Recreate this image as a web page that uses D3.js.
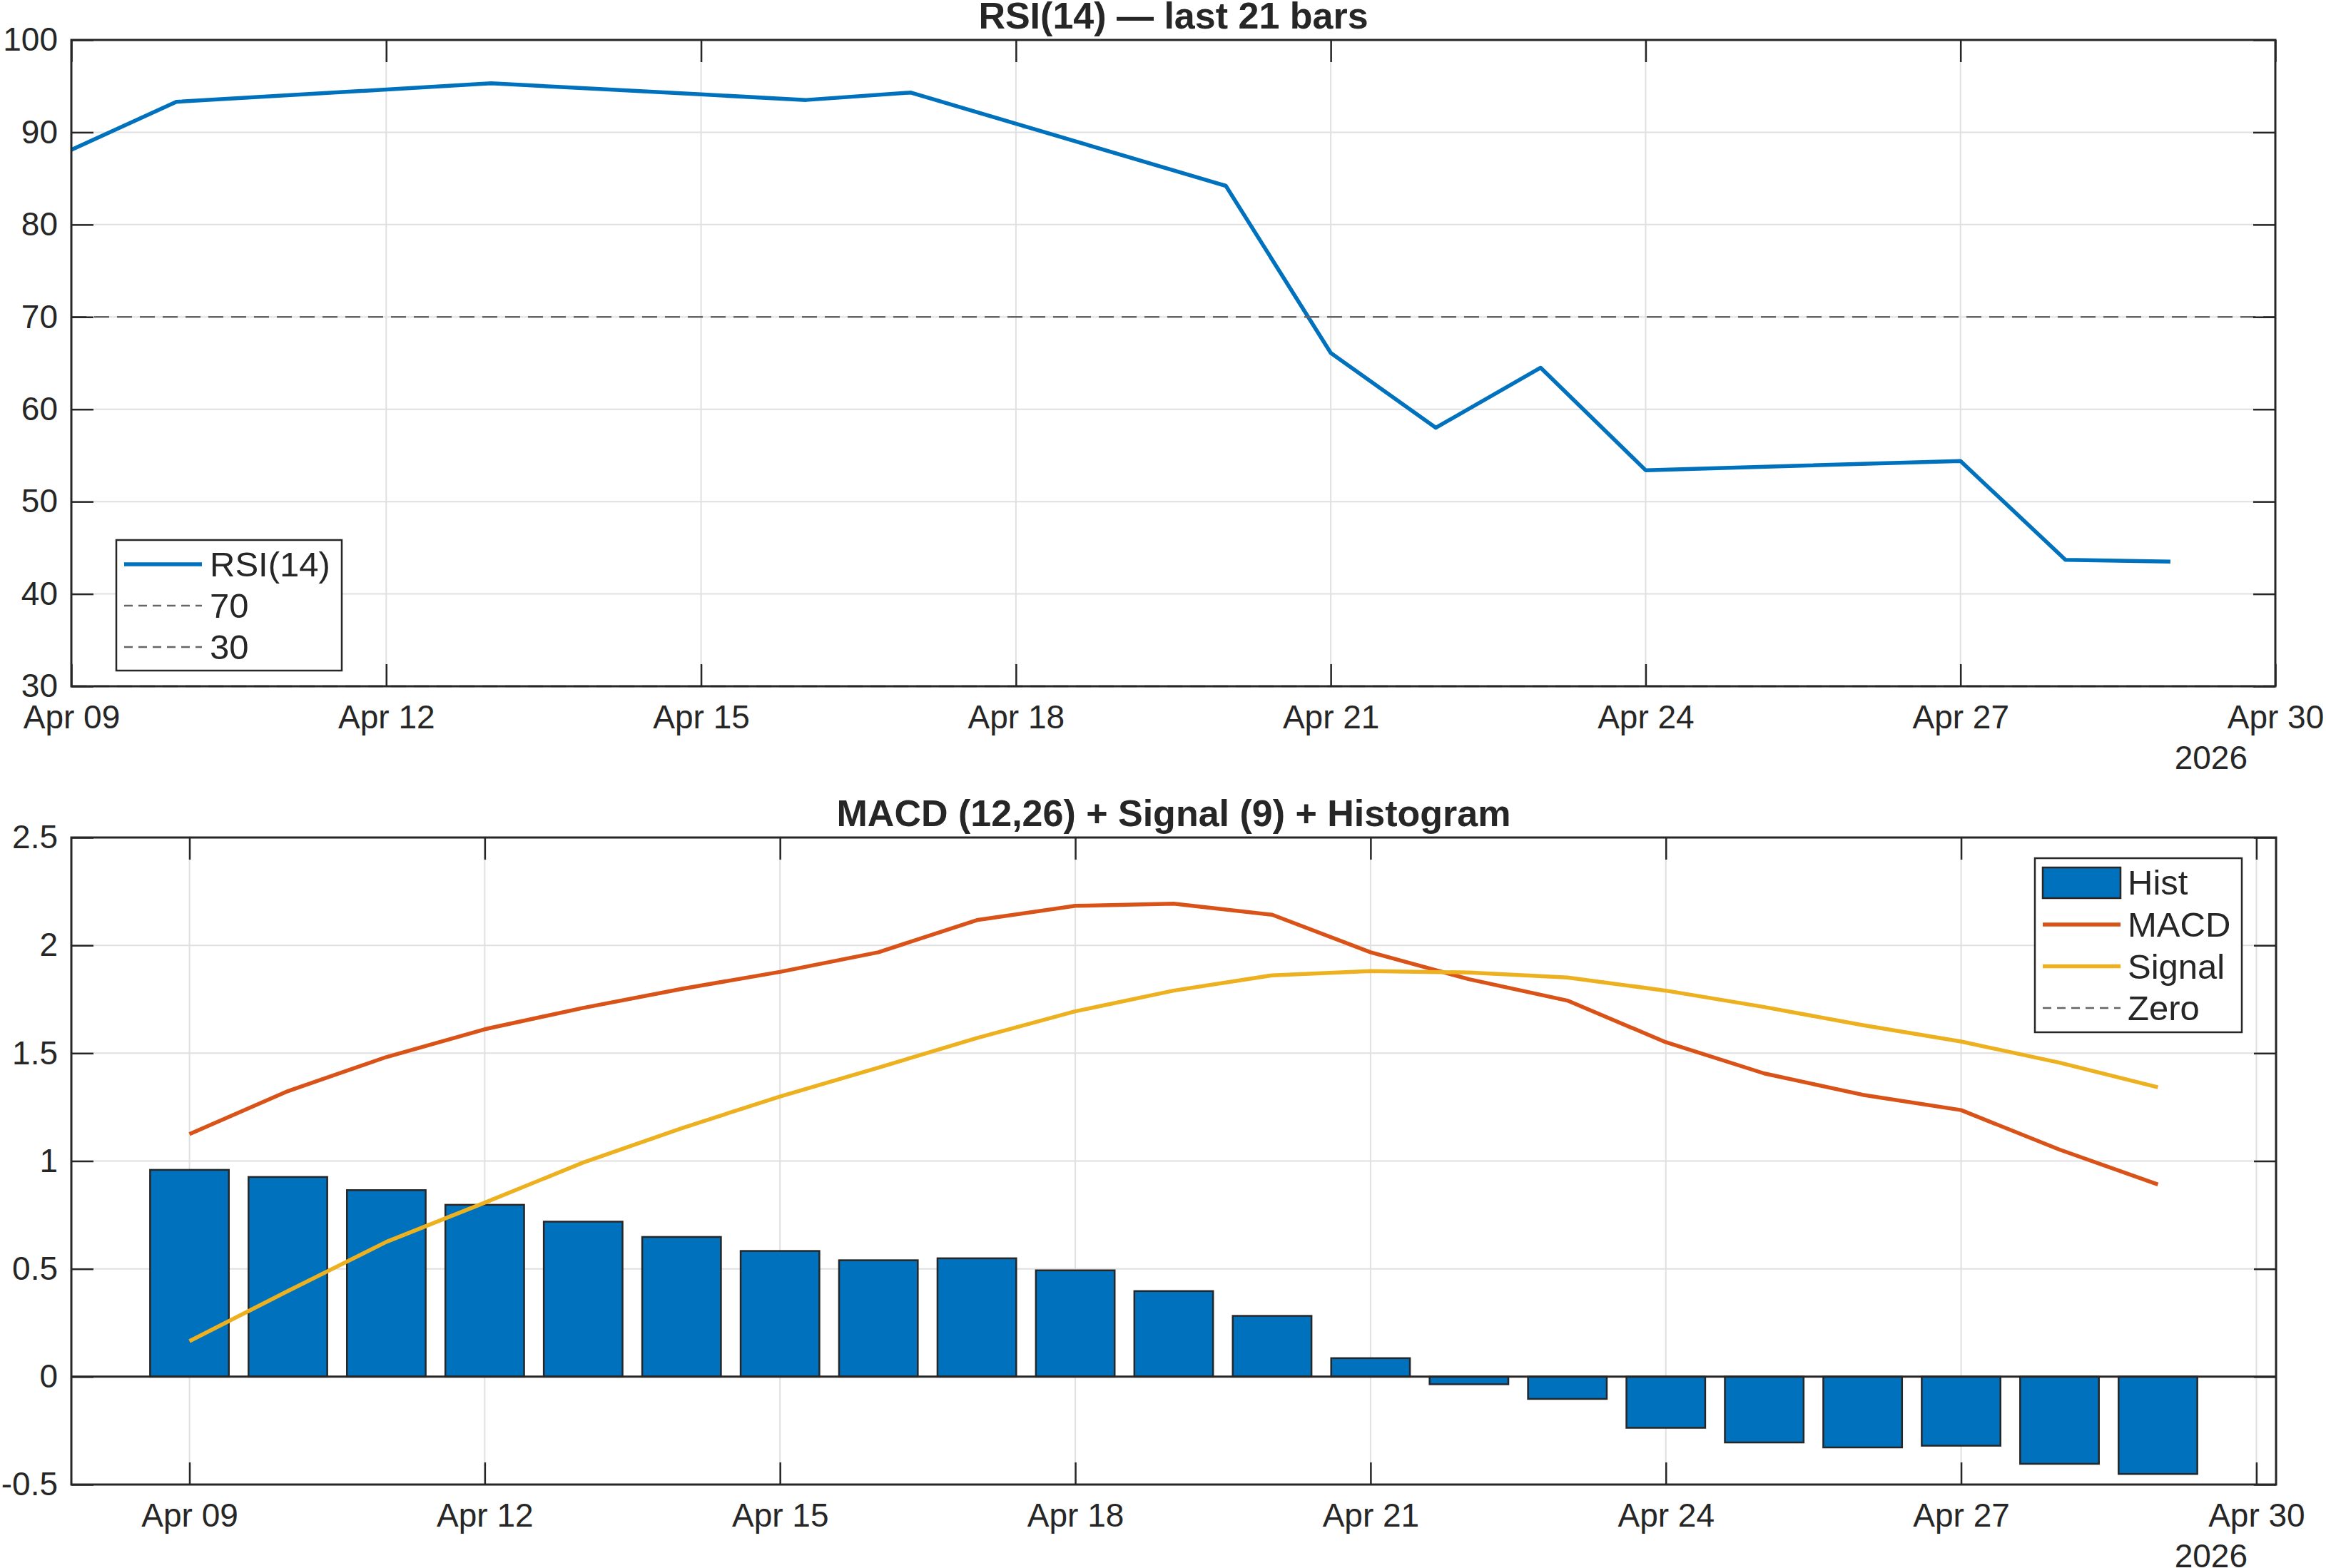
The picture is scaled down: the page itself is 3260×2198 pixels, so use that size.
<!DOCTYPE html>
<html>
<head>
<meta charset="utf-8">
<script src="https://cdn.jsdelivr.net/npm/d3@7"></script>
<style>
  body { margin: 0; background: #ffffff; }
  text { font-family: "Liberation Sans", Arial, Helvetica, sans-serif; fill: #262626; }
</style>
</head>
<body>
<svg id="chart" width="3260" height="2198"></svg>
<script>

// RSI(14), trading days only
var rsiDates = ["2026-04-09", "2026-04-10", "2026-04-13", "2026-04-14", "2026-04-15",
    "2026-04-16", "2026-04-17", "2026-04-20", "2026-04-21", "2026-04-22",
    "2026-04-23", "2026-04-24", "2026-04-27", "2026-04-28", "2026-04-29"];
var rsiValues = [88.1, 93.3, 95.3, 94.7, 94.1, 93.5, 94.3, 84.2, 66.1, 58.0, 64.5, 53.4, 54.4, 43.7, 43.5];
var rsiLevels = [70, 30];

// MACD panel, one value per day
var macdDates = ["2026-04-09", "2026-04-10", "2026-04-11", "2026-04-12", "2026-04-13",
    "2026-04-14", "2026-04-15", "2026-04-16", "2026-04-17", "2026-04-18",
    "2026-04-19", "2026-04-20", "2026-04-21", "2026-04-22", "2026-04-23",
    "2026-04-24", "2026-04-25", "2026-04-26", "2026-04-27", "2026-04-28", "2026-04-29"];
var histValues = [0.959, 0.926, 0.865, 0.797, 0.719, 0.648, 0.583, 0.540, 0.549, 0.493, 0.397,
    0.282, 0.086, -0.035, -0.103, -0.237, -0.305, -0.328, -0.320, -0.404, -0.451];
var macdValues = [1.125, 1.324, 1.482, 1.611, 1.710, 1.798, 1.877, 1.968, 2.117, 2.183, 2.193,
    2.142, 1.968, 1.843, 1.744, 1.551, 1.406, 1.307, 1.236, 1.053, 0.891];
var signalValues = [0.165, 0.397, 0.625, 0.807, 0.993, 1.152, 1.299, 1.433, 1.570, 1.694, 1.790,
    1.861, 1.881, 1.874, 1.851, 1.790, 1.714, 1.630, 1.554, 1.456, 1.342];

// ticks
var xTickDates = ["2026-04-09", "2026-04-12", "2026-04-15", "2026-04-18",
    "2026-04-21", "2026-04-24", "2026-04-27", "2026-04-30"];
var rsiYTicks = [30, 40, 50, 60, 70, 80, 90, 100];
var macdYTicks = [-0.5, 0, 0.5, 1, 1.5, 2, 2.5];
var yearLabel = "2026";

var parseDate = d3.timeParse("%Y-%m-%d");
var xTicks = xTickDates.map(parseDate);

var axisColor = "#262626";
var gridColor = "#e0e0e0";
var blue = "#0072BD", orange = "#D95319", yellow = "#EDB120", refGray = "#666666";
var tickLen = 31;
var lineW = 5.5;

var svg = d3.select("#chart");
svg.append("rect").attr("width", 3260).attr("height", 2198).attr("fill", "#ffffff");

var fmtDate = d3.timeFormat("%b %d");

// light grid behind the data
function drawFrame(g, x, y, yTicks, left, right, top, bottom) {
    var grid = g.append("g");
    grid.selectAll(".gx").data(xTicks).enter().append("line")
        .attr("x1", function(d) { return x(d); }).attr("x2", function(d) { return x(d); })
        .attr("y1", top).attr("y2", bottom)
        .attr("stroke", gridColor).attr("stroke-width", 2);
    grid.selectAll(".gy").data(yTicks).enter().append("line")
        .attr("x1", left).attr("x2", right)
        .attr("y1", function(d) { return y(d); }).attr("y2", function(d) { return y(d); })
        .attr("stroke", gridColor).attr("stroke-width", 2);
    return grid;
}

// box, inward ticks on all four sides, labels
function drawAxes(g, x, y, yTicks, yFormat, left, right, top, bottom) {
    var ax = g.append("g").style("color", axisColor);

    var xb = ax.append("g").attr("transform", "translate(0," + bottom + ")")
        .call(d3.axisBottom(x).tickValues(xTicks).tickFormat(fmtDate)
            .tickSize(-tickLen).tickPadding(26));
    var xt = ax.append("g").attr("transform", "translate(0," + top + ")")
        .call(d3.axisTop(x).tickValues(xTicks).tickFormat("").tickSize(-tickLen));
    var yl = ax.append("g").attr("transform", "translate(" + left + ",0)")
        .call(d3.axisLeft(y).tickValues(yTicks).tickFormat(yFormat)
            .tickSize(-tickLen).tickPadding(19));
    var yr = ax.append("g").attr("transform", "translate(" + right + ",0)")
        .call(d3.axisRight(y).tickValues(yTicks).tickFormat("").tickSize(-tickLen));

    [xb, xt, yl, yr].forEach(function(a) {
        a.select(".domain").remove();
        a.attr("font-size", 46).attr("font-family", null);
        a.selectAll(".tick line").attr("stroke-width", 2.5);
    });

    ax.append("rect")
        .attr("x", left).attr("y", top)
        .attr("width", right - left).attr("height", bottom - top)
        .attr("fill", "none").attr("stroke", axisColor).attr("stroke-width", 3);

    ax.append("text")
        .attr("x", 3150).attr("y", bottom + 116)
        .attr("text-anchor", "end")
        .attr("font-size", 46)
        .text(yearLabel);
}

function drawTitle(g, label, cx, baseline) {
    g.append("text")
        .attr("x", cx).attr("y", baseline)
        .attr("text-anchor", "middle")
        .attr("font-size", 52)
        .attr("font-weight", "bold")
        .text(label);
}

// ---------------- RSI panel ----------------
var rL = 100, rR = 3189, rT = 56, rB = 962;
var xR = d3.scaleTime()
    .domain([parseDate("2026-04-09"), parseDate("2026-04-30")])
    .range([rL, rR]);
var yR = d3.scaleLinear().domain([30, 100]).range([rB, rT]);

var rsiG = svg.append("g");
drawFrame(rsiG, xR, yR, rsiYTicks, rL, rR, rT, rB);

var rsiData = rsiDates.map(function(d, i) { return {date: parseDate(d), value: rsiValues[i]}; });
var rsiLine = d3.line()
    .x(function(d) { return xR(d.date); })
    .y(function(d) { return yR(d.value); });

rsiG.append("path").datum(rsiData)
    .attr("d", rsiLine)
    .attr("fill", "none").attr("stroke", blue).attr("stroke-width", lineW)
    .attr("stroke-linejoin", "round");

rsiG.selectAll(".level").data(rsiLevels).enter().append("line")
    .attr("x1", rL).attr("x2", rR)
    .attr("y1", function(d) { return yR(d); }).attr("y2", function(d) { return yR(d); })
    .attr("stroke", refGray).attr("stroke-width", 2.5).attr("stroke-dasharray", "21,11");

drawAxes(rsiG, xR, yR, rsiYTicks, d3.format("d"), rL, rR, rT, rB);
drawTitle(rsiG, "RSI(14) \u2014 last 21 bars", (rL + rR) / 2, 40);

// RSI legend
var rLeg = rsiG.append("g");
rLeg.append("rect").attr("x", 163).attr("y", 757).attr("width", 316).attr("height", 183)
    .attr("fill", "#ffffff").attr("stroke", axisColor).attr("stroke-width", 2.5);
var rsiLegendItems = [
    {label: "RSI(14)", color: blue, width: lineW, dash: null},
    {label: "70", color: refGray, width: 2.5, dash: "12,8"},
    {label: "30", color: refGray, width: 2.5, dash: "12,8"}
];
rsiLegendItems.forEach(function(item, i) {
    var ly = 791 + i * 58;
    rLeg.append("line").attr("x1", 174).attr("x2", 283).attr("y1", ly).attr("y2", ly)
        .attr("stroke", item.color).attr("stroke-width", item.width)
        .attr("stroke-dasharray", item.dash);
    rLeg.append("text").attr("x", 294).attr("y", ly + 17).attr("font-size", 49).text(item.label);
});

// ---------------- MACD panel ----------------
var mL = 100, mR = 3190, mT = 1174, mB = 2081;
var xM = d3.scaleTime()
    .domain([d3.timeMinute.offset(parseDate("2026-04-09"), -1728),
             d3.timeMinute.offset(parseDate("2026-04-30"), 288)])
    .range([mL, mR]);
var yM = d3.scaleLinear().domain([-0.5, 2.5]).range([mB, mT]);

var macdG = svg.append("g");
drawFrame(macdG, xM, yM, macdYTicks, mL, mR, mT, mB);

var macdData = macdDates.map(function(d, i) {
    return {date: parseDate(d), hist: histValues[i], macd: macdValues[i], signal: signalValues[i]};
});
var dayWidth = xM(parseDate("2026-04-10")) - xM(parseDate("2026-04-09"));
var barWidth = dayWidth * 0.8;

macdG.selectAll(".bar").data(macdData).enter().append("rect")
    .attr("x", function(d) { return xM(d.date) - barWidth / 2; })
    .attr("y", function(d) { return yM(Math.max(0, d.hist)); })
    .attr("width", barWidth)
    .attr("height", function(d) { return Math.abs(yM(d.hist) - yM(0)); })
    .attr("fill", blue).attr("stroke", axisColor).attr("stroke-width", 2.5);

// bar baseline
macdG.append("line").attr("x1", mL).attr("x2", mR).attr("y1", yM(0)).attr("y2", yM(0))
    .attr("stroke", axisColor).attr("stroke-width", 3);

function seriesLine(key) {
    return d3.line()
        .x(function(d) { return xM(d.date); })
        .y(function(d) { return yM(d[key]); });
}

macdG.append("path").datum(macdData)
    .attr("d", seriesLine("macd"))
    .attr("fill", "none").attr("stroke", orange).attr("stroke-width", lineW)
    .attr("stroke-linejoin", "round");
macdG.append("path").datum(macdData)
    .attr("d", seriesLine("signal"))
    .attr("fill", "none").attr("stroke", yellow).attr("stroke-width", lineW)
    .attr("stroke-linejoin", "round");

drawAxes(macdG, xM, yM, macdYTicks, function(d) { return String(d); }, mL, mR, mT, mB);
drawTitle(macdG, "MACD (12,26) + Signal (9) + Histogram", (mL + mR) / 2, 1158);

// MACD legend
var mLeg = macdG.append("g");
mLeg.append("rect").attr("x", 2852).attr("y", 1203).attr("width", 290).attr("height", 244)
    .attr("fill", "#ffffff").attr("stroke", axisColor).attr("stroke-width", 2.5);
mLeg.append("rect").attr("x", 2863).attr("y", 1216).attr("width", 109).attr("height", 43)
    .attr("fill", blue).attr("stroke", axisColor).attr("stroke-width", 2.5);
mLeg.append("text").attr("x", 2982).attr("y", 1237 + 17).attr("font-size", 49).text("Hist");
var macdLegendItems = [
    {label: "MACD", color: orange, width: lineW, dash: null},
    {label: "Signal", color: yellow, width: lineW, dash: null},
    {label: "Zero", color: refGray, width: 2.5, dash: "12,8"}
];
macdLegendItems.forEach(function(item, i) {
    var ly = 1296 + i * 58.5;
    mLeg.append("line").attr("x1", 2863).attr("x2", 2972).attr("y1", ly).attr("y2", ly)
        .attr("stroke", item.color).attr("stroke-width", item.width)
        .attr("stroke-dasharray", item.dash);
    mLeg.append("text").attr("x", 2982).attr("y", ly + 17).attr("font-size", 49).text(item.label);
});

</script>
</body>
</html>
